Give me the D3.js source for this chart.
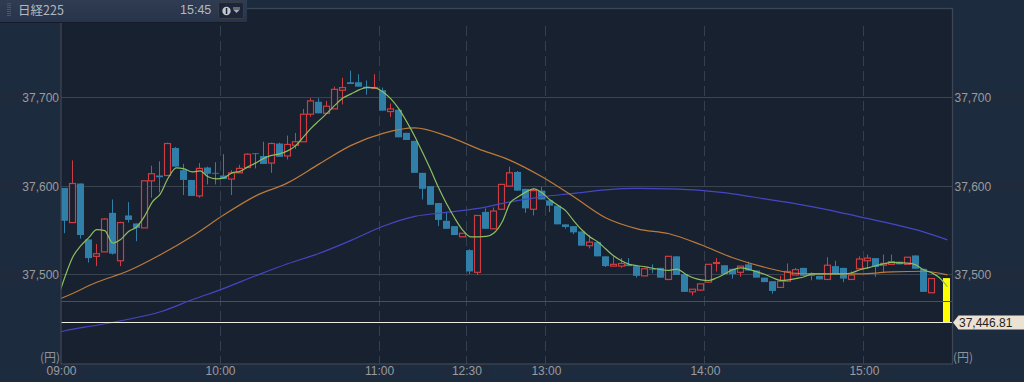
<!DOCTYPE html>
<html lang="ja">
<head>
<meta charset="utf-8">
<title>日経225</title>
<script src="https://cdnjs.cloudflare.com/ajax/libs/d3/7.8.5/d3.min.js"></script>
<style>
  html, body { margin: 0; padding: 0; background: #1d2b3f; overflow: hidden; }
  svg { display: block; font-family: "Liberation Sans", Arial, sans-serif; }
  .axis text { fill: #999c9f; font-size: 12px; font-family: "Liberation Sans", Arial, sans-serif; }
  .cjk { font-family: "Noto Sans CJK JP", sans-serif; }
</style>
</head>
<body>
<div id="chart"></div>
<script>
// Nikkei 225, 3 minute candles, 09:00 to 15:30

const title = "日経225";
const clock = "15:45";
const yen = "(円)";

// 3 minute slots, 110 has no trade, 111 is the closing print
const opens = [
  37598,37559,37603,37540,37521,37526,37570,37516,37567,37558,
  37553,37606,37612,37612,37643,37618,37607,37589,37621,37615,
  37612,37608,37615,37621,37637,37634,37626,37648,37634,37646,
  37650,37681,37695,37682,37687,37708,37717,37717,37712,37710,
  37708,37684,37686,37660,37651,37615,37600,37581,37561,37555,
  37543,37528,37503,37571,37552,37574,37600,37616,37597,37574,
  37595,37584,37578,37557,37555,37549,37533,37537,37521,37510,
  37510,37512,37510,37499,37507,37508,37495,37521,37501,37481,
  37483,37492,37513,37511,37507,37503,37512,37505,37497,37493,
  37486,37493,37500,37508,37502,37499,37495,37510,37508,37495,
  37507,37516,37519,37511,37512,37515,37512,37522,37507,37480,
  null,37496.5
];
const closes = [
  37561,37603,37545,37519,37524,37563,37524,37559,37562,37553,
  37606,37614,37610,37648,37622,37607,37589,37620,37614,37614,
  37608,37615,37620,37636,37636,37625,37648,37633,37647,37650,
  37681,37696,37682,37690,37709,37711,37715,37712,37710,37711,
  37685,37687,37655,37652,37615,37597,37579,37562,37552,37545,
  37547,37504,37567,37552,37572,37602,37615,37595,37575,37595,
  37585,37578,37557,37554,37548,37533,37537,37521,37510,37512,
  37513,37510,37499,37507,37506,37497,37521,37500,37481,37484,
  37490,37512,37514,37501,37501,37510,37505,37497,37492,37482,
  37493,37504,37506,37499,37499,37495,37511,37501,37496,37500,
  37518,37519,37509,37513,37515,37512,37520,37507,37481,37496,
  null,37446.81
];
const highs = [
  37598,37629,37603,37540,37535,37564,37585,37560,37582,37558,
  37606,37623,37628,37649,37644,37625,37607,37626,37622,37627,
  37636,37618,37624,37637,37637,37650,37649,37649,37657,37660,
  37687,37699,37699,37696,37712,37722,37730,37726,37719,37726,
  37711,37693,37687,37660,37651,37615,37600,37581,37571,37555,
  37547,37529,37567,37575,37576,37602,37622,37617,37597,37598,
  37599,37584,37578,37557,37555,37549,37545,37537,37521,37521,
  37519,37519,37510,37507,37512,37508,37521,37521,37501,37484,
  37490,37512,37519,37511,37507,37510,37515,37505,37497,37493,
  37499,37513,37508,37508,37503,37499,37520,37516,37508,37504,
  37521,37523,37519,37523,37523,37515,37520,37522,37507,37496,
  null,37496.5
];
const lows = [
  37547,37559,37541,37514,37510,37526,37523,37510,37559,37538,
  37553,37587,37593,37612,37622,37590,37589,37587,37602,37602,
  37608,37590,37615,37621,37620,37625,37615,37633,37630,37642,
  37650,37678,37682,37682,37687,37692,37715,37712,37703,37710,
  37685,37678,37655,37652,37615,37585,37579,37555,37552,37545,
  37543,37501,37500,37552,37552,37574,37600,37595,37570,37567,
  37585,37571,37557,37552,37546,37533,37530,37521,37509,37510,
  37508,37510,37497,37499,37502,37497,37494,37500,37481,37477,
  37482,37491,37504,37501,37496,37498,37505,37497,37492,37479,
  37486,37493,37500,37499,37494,37495,37495,37501,37492,37495,
  37507,37507,37498,37502,37512,37512,37512,37507,37481,37480,
  null,37446.81
];

// Short average, one value per slot starting one slot before the first candle
const fastAvg = [
  37471,37498,37520.5,37533,37542,37551,37550,37536,37540,37549,37554,
  37566,37582.4,37591.4,37609.4,37620.6,37619.5,37616,37617.2,37610.5,37608.2,
  37609.4,37615,37616.7,37621.7,37626.2,37631.3,37634.7,37636.4,37639.7,37645.4,
  37655.5,37665.6,37674,37682.5,37691.5,37699.4,37703.9,37708.4,37711.2,37710.6,
  37706.1,37698.2,37687,37672.4,37656,37637.5,37618.4,37598.1,37580.1,37564.4,
  37550.9,37543,37543,37543.5,37547.5,37559.9,37581.2,37588,37593.6,37597,
  37592.5,37584.6,37578.4,37572.2,37561,37550.9,37543,37537.4,37529.5,37521.6,
  37516,37512,37510.4,37509.2,37507.5,37505.9,37505.3,37506.6,37501.3,37496.9,
  37494.6,37493.8,37496.9,37501.3,37505.9,37508.1,37506.4,37503.6,37500.8,37496.9,
  37494,37494.6,37496.1,37498,37501.3,37501.3,37501.1,37501.3,37501.3,37502.5,
  37505.9,37508.1,37510.4,37512.6,37514.1,37513.7,37513.4,37511.5,37505.9,37502.5,
  37496.9,37486.7
];

const slowSlots = [-1,0,4,8,12,16,20,24,28,32,36,40,44,48,52,56,60,64,68,72,76,80,84,88,92,96,100,104,108,111];
const midAvg = [
  37472,37475.5,37491.8,37504.7,37522.7,37543.5,37567.7,37589.1,37603.7,37625.1,
  37645.9,37659.4,37665.6,37656.6,37642,37629,37610.5,37588,37564.4,37552,
  37546.4,37534,37519.4,37508.7,37501.9,37501.3,37501.3,37503.6,37504.2,37500.2
];
const longAvg = [
  37435,37437.2,37443.4,37450.2,37458.6,37472.1,37485,37499.1,37512.6,37524.5,
  37539,37554.8,37566,37570.5,37575,37582.4,37588,37591.9,37595.9,37597.5,
  37597,37595.3,37591.4,37585.7,37580.1,37573.4,37565.5,37557.6,37548.6,37539.6
];

const prevClose = 37470;
const lastPrice = 37446.81;

const priceTicks = [37500, 37600, 37700];
const timeLabels = ["09:00","10:00","11:00","12:30","13:00","14:00","15:00"];
const timeSlots = [0,20,40,51,61,81,101];

const w = 1024, h = 382;
const pL = 61, pR = 952.5, pT = 8.5, pB = 364;

const svg = d3.select("#chart").append("svg").
attr("width", w).
attr("height", h);

// Scales
const xScale = d3.scaleLinear().domain([0, 112]).range([pL, 951.4]);
const yScale = d3.scaleLinear().domain([37399.8, 37784.8]).range([pB, 22]);

const mid = i => xScale(i + 0.5);
const crisp = v => Math.floor(v) + 0.5;

// Backgrounds
const defs = svg.append("defs");
const headGrad = defs.append("linearGradient").attr("id", "head").attr("x2", 0).attr("y2", 1);
headGrad.append("stop").attr("offset", 0).attr("stop-color", "#2f3c52");
headGrad.append("stop").attr("offset", 1).attr("stop-color", "#26334a");

defs.append("clipPath").attr("id", "plot-clip").append("rect").
attr("x", pL).attr("y", pT).attr("width", pR - pL).attr("height", pB - pT);

svg.append("rect").attr("width", w).attr("height", h).attr("fill", "#1d2b3f");

svg.append("rect").
attr("x", pL).attr("y", pT).
attr("width", pR - pL).attr("height", pB - pT).
attr("fill", "#172130");

// Faint bands behind the axis labels
priceTicks.forEach(t => {
  svg.append("rect").attr("x", 0).attr("y", yScale(t) - 6).attr("width", pL - 1).attr("height", 12).attr("fill", "#252c38").attr("opacity", 0.35);
  svg.append("rect").attr("x", pR + 1).attr("y", yScale(t) - 6).attr("width", w - pR).attr("height", 12).attr("fill", "#252c38").attr("opacity", 0.35);
});
timeSlots.forEach(s => {
  svg.append("rect").attr("x", xScale(s) - 22).attr("y", pB + 1).attr("width", 44).attr("height", 13).attr("fill", "#252c38").attr("opacity", 0.3);
});

// Grid
const plot = svg.append("g").attr("clip-path", "url(#plot-clip)");

plot.selectAll(".hgrid").
data(priceTicks).
join("line").
attr("class", "hgrid").
attr("x1", pL).attr("x2", pR).
attr("y1", d => crisp(yScale(d))).attr("y2", d => crisp(yScale(d))).
attr("stroke", "#3a4350").
attr("stroke-width", 1);

plot.selectAll(".vgrid").
data(timeSlots.slice(1)).
join("line").
attr("class", "vgrid").
attr("x1", d => crisp(xScale(d))).attr("x2", d => crisp(xScale(d))).
attr("y1", 26).attr("y2", pB).
attr("stroke", "#343f4f").
attr("stroke-width", 1).
attr("stroke-dasharray", "10 5");

// Candles
const blue = "#2f7fa8", red = "#cf3d42", lastIdx = opens.length - 1;
const candles = d3.range(opens.length).filter(i => opens[i] !== null);

plot.selectAll(".wick").
data(candles).
join("line").
attr("class", "wick").
attr("x1", i => Math.round(xScale(i)) + 3.5).
attr("x2", i => Math.round(xScale(i)) + 3.5).
attr("y1", i => yScale(highs[i])).
attr("y2", i => yScale(lows[i])).
attr("stroke", i => closes[i] >= opens[i] ? red : blue).
attr("stroke-width", 1);

plot.selectAll(".body").
data(candles).
join("rect").
attr("class", "body").
attr("x", i => Math.round(xScale(i)) + (closes[i] >= opens[i] ? 0.5 : 0)).
attr("width", i => closes[i] >= opens[i] ? 6 : 7).
attr("y", i => yScale(Math.max(opens[i], closes[i]))).
attr("height", i => Math.abs(yScale(opens[i]) - yScale(closes[i]))).
attr("fill", i => i === lastIdx ? "#ffff00" : closes[i] >= opens[i] ? "#172130" : blue).
attr("stroke", i => i === lastIdx ? "none" : closes[i] >= opens[i] ? red : "none").
attr("stroke-width", 1.2);

// Reference lines
plot.append("line").
attr("x1", pL).attr("x2", pR).
attr("y1", crisp(yScale(prevClose))).attr("y2", crisp(yScale(prevClose))).
attr("stroke", "#1f6e2c").
attr("stroke-width", 1);

// Moving averages
const avgLine = d3.line().
x(d => mid(d[0])).
y(d => yScale(d[1])).
curve(d3.curveMonotoneX);

const fastSlots = d3.range(-1, 112);

[
  { slots: slowSlots, vals: longAvg, color: "#4646c4" },
  { slots: slowSlots, vals: midAvg, color: "#bd7a3a" },
  { slots: fastSlots, vals: fastAvg, color: "#8dbf5e" }
].forEach(s => {
  plot.append("path").
  attr("d", avgLine(s.slots.map((t, i) => [t, s.vals[i]]))).
  attr("fill", "none").
  attr("stroke", s.color).
  attr("stroke-width", 1.2);
});

plot.append("line").
attr("x1", pL).attr("x2", pR).
attr("y1", crisp(yScale(lastPrice))).attr("y2", crisp(yScale(lastPrice))).
attr("stroke", "#f0ebe0").
attr("stroke-width", 1);

// Plot frame
svg.append("rect").
attr("x", pL).attr("y", pT).
attr("width", pR - pL).attr("height", pB - pT).
attr("fill", "none").
attr("stroke", "#3d4654").
attr("stroke-width", 1.3);

// Axes
const yLeft = d3.axisLeft(yScale).
tickValues(priceTicks).
tickFormat(d3.format(",")).
tickSize(0).
tickPadding(2);

const yRight = d3.axisRight(yScale).
tickValues(priceTicks).
tickFormat(d3.format(",")).
tickSize(0).
tickPadding(2);

const xAxis = d3.axisBottom(xScale).
tickValues(timeSlots).
tickFormat((d, i) => timeLabels[i]).
tickSize(0).
tickPadding(2);

svg.append("g").attr("class", "axis").attr("transform", `translate(${pL} 0)`).call(yLeft).select(".domain").remove();
svg.append("g").attr("class", "axis").attr("transform", `translate(${pR} 0)`).call(yRight).select(".domain").remove();
svg.append("g").attr("class", "axis").attr("transform", `translate(0 ${pB})`).call(xAxis).select(".domain").remove();

[[pL - 1, "end"], [pR + 0.5, "start"]].forEach(a => {
  svg.append("text").
  attr("class", "cjk").
  attr("x", a[0]).attr("y", 362).
  attr("text-anchor", a[1]).
  attr("font-size", 12).
  attr("fill", "#8f9296").
  text(yen);
});

// Price tag at the right edge
const tagY = crisp(yScale(lastPrice));
svg.append("path").
attr("d", `M${pR + 0.5} ${tagY} L${pR + 6} ${tagY - 7} H${w} V${tagY + 7} H${pR + 6} Z`).
attr("fill", "#ece2d4");

svg.append("text").
attr("x", 959).attr("y", tagY + 4.2).
attr("font-size", 12).
attr("fill", "#222").
text(d3.format(",.2f")(lastPrice));

// Header panel
svg.append("rect").attr("width", 247).attr("height", 23).attr("fill", "url(#head)");
svg.append("rect").attr("y", 22).attr("width", 247).attr("height", 1).attr("fill", "#141c29");

svg.append("g").selectAll("rect").
data(d3.range(7)).
join("rect").
attr("x", 7).attr("y", i => 3 + i * 2).
attr("width", 4).attr("height", 1).
attr("fill", "#4a5668");

svg.append("text").
attr("class", "cjk").
attr("x", 18).attr("y", 14.5).
attr("font-size", 12.5).
attr("fill", "#b4b8be").
text(title);

svg.append("text").
attr("x", 180).attr("y", 14).
attr("font-size", 12.5).
attr("fill", "#b4b8be").
text(clock);

svg.append("rect").
attr("x", 218.5).attr("y", 2.5).
attr("width", 25).attr("height", 16).
attr("rx", 2).
attr("fill", "#1c2638").
attr("stroke", "#3a3d42");

svg.append("circle").attr("cx", 226.5).attr("cy", 11).attr("r", 4.2).attr("fill", "#c3c6ca");
svg.append("rect").attr("x", 225.8).attr("y", 8).attr("width", 1.5).attr("height", 6).attr("fill", "#1c2638");
svg.append("path").attr("d", "M233 9.5 H240 L236.5 13 Z").attr("fill", "#a9adb3");
svg.append("rect").attr("x", 233).attr("y", 7.5).attr("width", 7).attr("height", 1).attr("fill", "#a9adb3");
</script>
</body>
</html>
